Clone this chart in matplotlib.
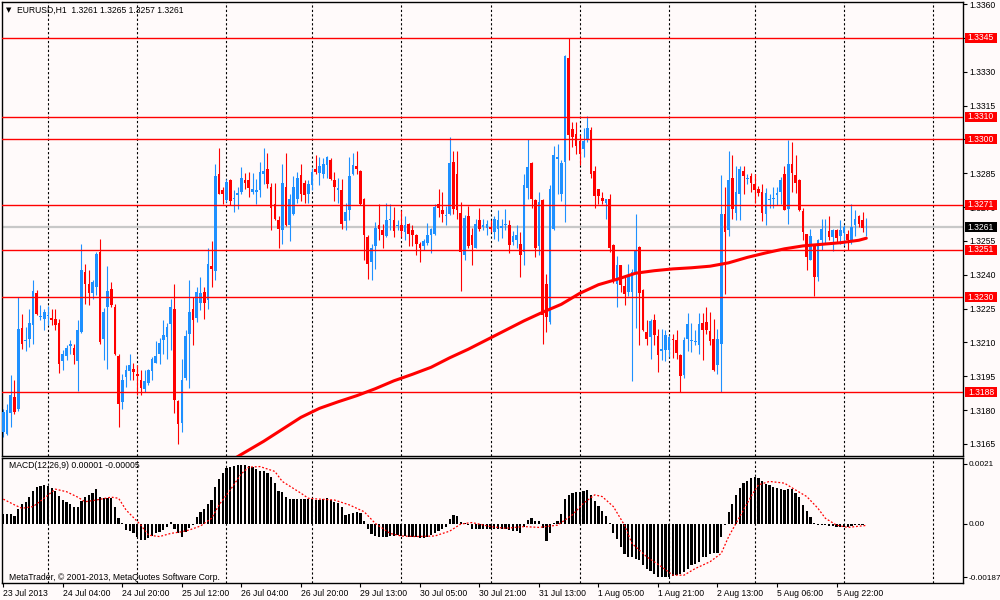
import numpy as np
import matplotlib
matplotlib.use('Agg')
import matplotlib.pyplot as plt
from matplotlib.patches import Rectangle
from matplotlib.transforms import blended_transform_factory

plt.rcParams['font.family'] = ['Liberation Sans', 'DejaVu Sans']
plt.rcParams['font.size'] = 6.2

# ---------------- data (EURUSD H1, prices as pips above BASE) ----------------
BASE = 1.3165
open_pips = [
    5.3, 4.6, 13.7, 20.8, 15.7, 51.5, 45.6, 46.7, 52.6, 66.9,
    56.3, 55.5, 56.9, 55.9, 55.6, 53.6, 36.8, 38.8, 43.3, 42.7,
    36.8, 49.7, 76.3, 71.1, 67.0, 69.6, 85.0, 46.7, 60.7, 68.9,
    60.7, 38.8, 18.6, 29.7, 32.3, 33.4, 31.2, 28.5, 24.5, 27.2,
    32.3, 35.9, 39.7, 45.9, 47.4, 53.0, 60.0, 18.9, 9.3, 29.4,
    48.9, 60.0, 56.0, 62.5, 67.4, 64.0, 78.7, 76.6, 119.8, 112.7,
    108.3, 116.8, 108.5, 110.2, 111.7, 117.1, 116.8, 111.7, 111.7, 112.7,
    119.8, 122.0, 113.9, 106.2, 99.1, 95.0, 113.9, 96.9, 102.1, 108.7,
    119.1, 115.7, 110.9, 114.6, 122.0, 120.1, 119.8, 123.5, 125.7, 117.1,
    112.7, 112.7, 98.8, 103.8, 119.8, 123.0, 121.0, 108.7, 91.7, 80.7,
    87.6, 96.9, 95.0, 92.0, 99.1, 99.1, 96.5, 96.9, 94.0, 97.3,
    94.7, 92.5, 88.5, 87.6, 89.1, 92.5, 93.2, 106.2, 103.8, 100.9,
    101.8, 125.0, 119.8, 102.5, 83.6, 101.0, 92.7, 86.8, 99.1, 96.1,
    95.7, 96.1, 93.9, 95.1, 95.7, 96.9, 96.9, 89.5, 90.2, 88.8,
    85.1, 113.4, 124.7, 108.0, 87.7, 108.0, 71.0, 54.0, 95.1, 126.2,
    110.9, 125.0, 171.0, 139.4, 137.5, 134.5, 130.8, 135.3, 139.0, 120.8,
    112.8, 109.0, 106.9, 108.7, 88.0, 71.0, 79.2, 70.0, 67.3, 67.3,
    76.2, 87.3, 68.1, 49.6, 47.4, 54.8, 47.8, 41.0, 41.5, 41.5,
    46.7, 46.3, 39.3, 30.4, 46.5, 45.5, 45.0, 43.7, 53.6, 54.1,
    50.1, 46.7, 34.9, 44.5, 101.8, 94.7, 118.0, 102.4, 110.9, 121.0,
    117.6, 118.6, 115.4, 113.2, 111.7, 101.8, 108.3, 108.5, 110.2, 111.7,
    119.8, 104.3, 124.2, 119.1, 117.1, 103.2, 92.9, 81.7, 88.0, 74.0,
    90.3, 94.7, 94.4, 91.7, 95.0, 92.0, 93.5, 93.2, 90.0, 96.9,
    100.9, 99.4, 96.0]
high_pips = [
    15.7, 17.9, 30.5, 28.5, 65.2, 57.8, 51.8, 60.0, 72.8, 68.1,
    61.8, 60.0, 61.1, 60.0, 60.0, 55.6, 41.8, 43.7, 45.9, 44.5,
    55.1, 88.8, 79.7, 77.3, 72.5, 85.1, 91.0, 60.3, 78.9, 71.8,
    61.9, 40.0, 31.2, 34.9, 39.7, 35.9, 34.9, 32.6, 32.6, 33.4,
    38.5, 45.6, 47.1, 54.8, 53.6, 64.4, 71.1, 19.7, 37.8, 50.7,
    72.5, 65.1, 69.6, 74.0, 69.6, 87.0, 90.0, 123.9, 131.3, 113.9,
    117.6, 117.6, 112.4, 113.9, 122.7, 120.1, 120.5, 120.1, 117.6, 125.0,
    131.3, 129.0, 115.8, 115.8, 100.9, 124.0, 129.0, 110.9, 118.6, 120.5,
    124.0, 117.1, 117.1, 122.5, 127.9, 127.2, 126.9, 127.5, 126.9, 120.5,
    118.0, 117.6, 106.8, 127.2, 129.0, 129.8, 121.6, 109.2, 92.5, 88.5,
    98.4, 106.5, 97.6, 106.8, 106.5, 105.0, 99.4, 103.5, 100.9, 97.9,
    96.9, 92.9, 89.5, 91.0, 97.9, 95.9, 106.5, 113.1, 111.7, 105.3,
    136.0, 130.0, 129.7, 107.2, 101.3, 105.7, 95.7, 99.8, 104.6, 99.8,
    99.1, 99.1, 101.0, 103.5, 99.8, 104.0, 99.1, 94.2, 96.9, 93.9,
    119.8, 135.0, 125.2, 108.7, 111.7, 108.7, 75.5, 114.9, 132.0, 133.0,
    125.7, 172.5, 180.0, 142.7, 142.7, 136.8, 140.0, 145.3, 140.5, 123.2,
    113.1, 111.7, 108.7, 110.9, 88.8, 83.3, 79.5, 74.7, 79.9, 77.7,
    102.1, 87.7, 68.8, 54.8, 55.5, 57.7, 51.1, 50.8, 50.4, 48.1,
    48.9, 50.4, 40.0, 47.4, 58.0, 53.6, 50.4, 58.1, 58.1, 60.7,
    58.5, 55.5, 51.1, 119.0, 113.9, 129.8, 127.9, 123.0, 123.0, 123.0,
    119.8, 120.1, 119.8, 114.2, 115.4, 113.6, 110.9, 113.9, 113.9, 118.3,
    123.0, 134.9, 133.8, 127.9, 117.6, 104.7, 93.2, 95.4, 88.8, 91.0,
    99.9, 99.9, 100.9, 95.4, 95.4, 99.1, 96.9, 95.0, 106.2, 103.8,
    101.3, 102.8, 100.0]
low_pips = [
    3.1, 4.0, 7.5, 13.4, 14.7, 42.3, 41.2, 43.0, 44.5, 57.0,
    55.1, 50.7, 52.6, 52.6, 50.7, 31.6, 32.6, 37.1, 40.0, 35.6,
    23.5, 49.2, 62.2, 61.5, 64.4, 65.9, 44.5, 37.4, 33.4, 60.7,
    39.3, 7.5, 15.7, 25.3, 28.5, 28.2, 21.6, 21.6, 23.0, 26.0,
    28.5, 35.9, 35.6, 40.0, 37.8, 41.5, 13.7, 0.0, 5.3, 28.2,
    25.0, 43.7, 54.1, 59.5, 55.6, 60.0, 69.6, 72.5, 110.6, 106.5,
    107.2, 105.8, 102.8, 104.3, 110.9, 113.1, 109.5, 110.9, 106.2, 109.5,
    115.4, 113.4, 95.0, 99.1, 87.0, 88.8, 96.5, 90.0, 101.3, 106.8,
    107.7, 106.8, 106.8, 112.7, 119.8, 114.6, 118.0, 118.0, 117.1, 107.7,
    106.8, 95.4, 95.0, 99.1, 119.1, 119.5, 105.8, 81.4, 73.3, 72.5,
    77.7, 90.3, 87.0, 91.7, 95.0, 91.7, 95.0, 91.7, 90.3, 87.6,
    87.6, 83.6, 80.7, 85.8, 88.0, 84.6, 92.5, 100.6, 98.4, 96.9,
    101.3, 102.0, 99.8, 67.6, 81.4, 86.8, 79.4, 86.8, 94.2, 94.7,
    92.7, 93.9, 90.7, 89.8, 91.3, 94.7, 84.8, 88.3, 86.8, 74.0,
    79.4, 108.7, 104.6, 82.9, 83.9, 44.4, 49.6, 53.3, 94.7, 110.9,
    107.5, 98.6, 125.7, 131.6, 128.6, 123.8, 127.2, 133.8, 117.9, 104.6,
    106.5, 106.5, 99.5, 85.1, 71.5, 60.7, 67.3, 61.7, 65.6, 27.8,
    51.4, 43.7, 49.9, 44.0, 37.8, 44.0, 31.9, 37.1, 36.6, 38.5,
    38.1, 37.5, 23.0, 29.2, 41.0, 40.8, 44.0, 39.7, 37.1, 48.6,
    43.7, 32.4, 30.9, 23.1, 66.6, 92.0, 99.9, 99.4, 99.1, 110.6,
    115.4, 111.7, 106.8, 109.8, 98.8, 96.9, 104.7, 104.7, 105.8, 106.5,
    103.5, 97.6, 111.7, 111.2, 103.3, 90.3, 77.0, 81.4, 65.4, 72.2,
    85.8, 88.8, 90.3, 85.5, 89.5, 88.8, 88.0, 85.8, 88.8, 92.0,
    96.2, 94.0, 92.0]
close_pips = [
    14.2, 14.9, 21.6, 14.2, 51.1, 44.5, 46.3, 53.6, 67.7, 57.8,
    56.8, 58.5, 57.2, 54.8, 52.6, 35.6, 39.7, 42.7, 44.2, 39.6,
    50.7, 77.0, 70.8, 66.7, 71.7, 84.4, 45.2, 58.5, 67.7, 61.5,
    39.7, 17.9, 28.5, 32.6, 34.9, 31.9, 30.0, 25.0, 27.9, 32.6,
    37.8, 38.8, 44.8, 48.2, 51.8, 60.7, 19.7, 8.7, 28.5, 47.7,
    58.5, 54.8, 67.4, 66.9, 62.5, 79.6, 77.7, 118.6, 110.9, 110.9,
    116.1, 107.5, 109.2, 111.2, 118.0, 115.7, 113.6, 113.1, 112.7, 120.5,
    120.8, 115.4, 104.7, 99.6, 95.4, 115.8, 96.9, 108.7, 113.9, 118.0,
    110.6, 110.2, 115.4, 120.5, 120.5, 123.0, 124.2, 127.2, 117.6, 113.9,
    113.6, 97.6, 102.8, 118.6, 123.5, 122.0, 106.5, 92.5, 79.6, 87.0,
    95.9, 95.4, 92.5, 99.1, 99.9, 94.4, 96.9, 94.4, 96.9, 92.9,
    92.5, 88.5, 87.0, 90.0, 92.5, 95.4, 105.0, 104.7, 101.8, 101.3,
    124.5, 104.0, 103.5, 85.1, 100.1, 87.7, 88.0, 97.6, 95.1, 97.2,
    97.6, 95.1, 99.8, 99.1, 96.6, 97.6, 88.3, 92.2, 92.7, 83.6,
    114.9, 122.7, 108.7, 86.8, 107.2, 57.0, 56.3, 113.1, 127.9, 127.2,
    124.6, 171.9, 136.8, 136.0, 132.0, 128.6, 134.5, 140.0, 119.8, 109.9,
    109.9, 107.5, 108.4, 86.8, 73.2, 79.4, 70.6, 66.6, 74.7, 76.2,
    85.4, 67.0, 50.4, 46.7, 54.3, 48.4, 39.6, 42.2, 48.1, 47.4,
    45.9, 40.5, 30.1, 45.9, 53.0, 46.0, 45.7, 53.0, 50.7, 50.7,
    45.7, 32.9, 46.7, 102.1, 93.9, 117.1, 104.3, 111.7, 122.0, 118.6,
    118.0, 115.7, 112.4, 111.2, 102.4, 111.2, 108.7, 108.9, 111.2, 117.1,
    103.8, 124.2, 120.1, 115.7, 103.5, 93.9, 82.9, 92.0, 74.0, 90.6,
    95.4, 95.0, 91.7, 95.0, 91.4, 95.0, 96.2, 90.3, 96.2, 99.9,
    97.3, 95.9, 96.0]

level_prices = [1.3345, 1.3310, 1.3300, 1.3271, 1.3251, 1.3230, 1.3188]
bid_price = 1.3261

ma_bars = [58, 60, 64, 70, 75, 80, 85, 90, 95, 100, 105, 110, 115, 120, 125,
           130, 135, 140, 145, 150, 155, 160, 165, 170, 175, 180, 185, 190,
           195, 200, 205, 210, 215, 220, 225, 230, 232]
ma_prices = [1.31542, 1.31564, 1.31604, 1.31662, 1.31715, 1.31768, 1.31808,
             1.31837, 1.31864, 1.31895, 1.31930, 1.31959, 1.31990, 1.32032,
             1.32070, 1.32112, 1.32154, 1.32196, 1.32234, 1.32269, 1.32318,
             1.32356, 1.32380, 1.32407, 1.32418, 1.32426, 1.32431, 1.32438,
             1.32453, 1.32477, 1.32497, 1.32515, 1.32528, 1.32535, 1.32542,
             1.32553, 1.32562]

# MACD histogram and signal, in units of 1e-5
macd_hist_e5 = [
    35, 35, 35, 29, 53, 70, 78, 96, 117, 129,
    133, 136, 133, 125, 117, 99, 84, 76, 69, 59,
    61, 82, 96, 102, 108, 122, 96, 90, 90, 90,
    59, 20, 2, -21, -25, -33, -47, -56, -56, -50,
    -42, -33, -29, -21, -12, 8, -19, -33, -47, -27,
    -15, -2, 26, 41, 51, 70, 84, 129, 157, 178,
    195, 201, 204, 205, 207, 207, 204, 199, 192, 184,
    184, 178, 164, 143, 117, 113, 96, 87, 87, 87,
    87, 87, 87, 87, 84, 84, 87, 90, 84, 78,
    75, 59, 32, 35, 40, 43, 37, 12, -19, -35,
    -42, -44, -47, -44, -42, -42, -40, -42, -42, -44,
    -47, -47, -50, -50, -47, -39, -30, -23, -16, -9,
    16, 30, 28, 8, 2, -4, -19, -19, -19, -19,
    -19, -16, -19, -19, -19, -19, -21, -23, -23, -33,
    -12, 14, 20, 12, 12, -15, -59, -30, 5, 12,
    35, 87, 102, 110, 113, 113, 117, 119, 102, 82,
    63, 47, 28, 2, -33, -54, -80, -105, -117, -117,
    -121, -126, -144, -156, -164, -176, -185, -185, -187, -187,
    -183, -179, -176, -167, -156, -144, -140, -132, -117, -115,
    -105, -101, -101, -47, -4, 43, 70, 102, 125, 143,
    152, 160, 164, 160, 149, 140, 137, 131, 125, 122,
    119, 122, 122, 110, 96, 67, 47, 26, 2, -4,
    -4, -5, -7, -7, -9, -9, -9, -9, -7, -5,
    -4, -4, 1]
signal_bars = [0, 3, 5, 8, 11, 14, 17, 20, 22, 25, 29, 31, 33, 37, 39, 42, 45,
               48, 50, 53, 56, 58, 61, 64, 66, 69, 73, 75, 80, 82, 85, 89, 93,
               97, 100, 104, 107, 111, 116, 120, 123, 126, 131, 135, 140, 144,
               149, 153, 156, 159, 161, 164, 167, 169, 173, 177, 180, 183, 186,
               190, 193, 195, 198, 201, 203, 206, 210, 213, 216, 219, 221, 224,
               227, 232]
signal_e5 = [87, 67, 55, 61, 90, 122, 113, 94, 78, 84, 94, 90, 49, -4, -39, -44,
             -33, -27, -21, -7, 20, 67, 119, 176, 199, 201, 184, 149, 108, 90,
             87, 84, 67, 43, 2, -33, -42, -44, -42, -25, 0, 5, -9, -15, -9, -12,
             -4, 32, 73, 102, 96, 61, -4, -68, -115, -150, -179, -179, -156,
             -132, -103, -44, 26, 96, 137, 149, 143, 119, 96, 55, 20, -4, -12,
             -5]

x_label_bars = [0, 16, 32, 48, 64, 80, 96, 112, 128, 144, 160, 176, 192, 208, 224]
x_labels = ['23 Jul 2013', '24 Jul 04:00', '24 Jul 20:00', '25 Jul 12:00',
            '26 Jul 04:00', '26 Jul 20:00', '29 Jul 13:00', '30 Jul 05:00',
            '30 Jul 21:00', '31 Jul 13:00', '1 Aug 05:00', '1 Aug 21:00',
            '2 Aug 13:00', '5 Aug 06:00', '5 Aug 22:00']
day_bars = [12, 36, 60, 83, 107, 131, 155, 179, 202, 226, 250]
price_ticks = [1.3165, 1.3180, 1.3195, 1.3210, 1.3225, 1.3240, 1.3255, 1.3270,
               1.3285, 1.3300, 1.3315, 1.3330, 1.3345, 1.3360]
macd_ticks = [0.0021, 0.0, -0.00187]
macd_tick_labels = ['0.0021', '0.00', '-0.00187']

# ---------------- figure ----------------
BG = '#FFFAFA'
BULL = '#1E90FF'
BEAR = '#FF0000'

fig = plt.figure(figsize=(10, 6), dpi=100, facecolor=BG)
ax = fig.add_axes([0.002, 1 - 456 / 600, 0.961, 454 / 600], facecolor=BG)
axm = fig.add_axes([0.002, 1 - 583 / 600, 0.961, 125 / 600], facecolor=BG)

o = BASE + np.array(open_pips) / 1e4
h = BASE + np.array(high_pips) / 1e4
l = BASE + np.array(low_pips) / 1e4
c = BASE + np.array(close_pips) / 1e4
xs = np.arange(len(o))
up = c >= o
cols = np.where(up, BULL, BEAR)

for a in (ax, axm):
    for d in day_bars:
        a.axvline(d, color='black', lw=0.8, ls=(0, (2, 2)), zorder=1)
    for s in a.spines.values():
        s.set_color('black')
        s.set_linewidth(1.0)
    a.set_xlim(-0.35, 258.0)

ax.axhline(bid_price, color='#C8C8C8', lw=1.6, zorder=1.5)

ax.vlines(xs, l, h, colors=cols, lw=0.8, zorder=2)
body_bottom = np.minimum(o, c)
body_h = np.maximum(np.abs(c - o), 0.00003)
ax.bar(xs, body_h, bottom=body_bottom, width=0.72, color=cols, linewidth=0, zorder=3)

for lv in level_prices:
    ax.axhline(lv, color='#FF0000', lw=1.0, zorder=4)

ax.plot(ma_bars, ma_prices, color='#FF0000', lw=2.2, zorder=5, solid_capstyle='round')

ax.set_ylim(1.315968, 1.336089)
ax.set_yticks(price_ticks)
# labels that sit exactly under a level box are hidden by the box in the reference
ax.set_yticklabels(['' if any(abs(t - lv) < 1e-6 for lv in level_prices) else '%.4f' % t
                    for t in price_ticks])
ax.yaxis.tick_right()
ax.tick_params(axis='y', length=3, width=0.8, pad=1.5, labelsize=6.2, colors='black')
ax.tick_params(axis='x', bottom=False, labelbottom=False)

# right-side price labels
blend = blended_transform_factory(ax.transAxes, ax.transData)
bw = 32 / 961
bh = 10 / 22564
def price_box(p, fc):
    ax.add_patch(Rectangle((1 + 2 / 961, p - bh / 2), bw, bh, transform=blend,
                           facecolor=fc, edgecolor='none', clip_on=False, zorder=10))
    ax.text(1 + 2 / 961 + bw / 2, p, '%.4f' % p, transform=blend, ha='center',
            va='center', color='white', fontsize=6.2, clip_on=False, zorder=11)
for lv in level_prices:
    price_box(lv, '#FF0000')
price_box(bid_price, 'black')

# MACD panel
hist = np.array(macd_hist_e5) * 1e-5
axm.bar(np.arange(len(hist)), hist, width=0.6, color='black', linewidth=0, zorder=3)
axm.plot(signal_bars, np.array(signal_e5) * 1e-5, color='#FF0000', lw=0.9,
         ls=(0, (1.5, 1.5)), zorder=4)
axm.set_ylim(-0.002065, 0.00231)
axm.set_yticks(macd_ticks)
axm.set_yticklabels(macd_tick_labels)
axm.yaxis.tick_right()
axm.tick_params(axis='y', length=3, width=0.8, pad=1.0, labelsize=5.9)
axm.set_xticks(x_label_bars)
axm.set_xticklabels(x_labels)
for t in axm.get_xticklabels():
    t.set_horizontalalignment('left')
axm.tick_params(axis='x', length=3, width=0.8, pad=1.5, labelsize=6.2)

axm.text(7 / 961, 1 - 8 / 125, 'MACD(12,26,9) 0.00001 -0.00005', transform=axm.transAxes,
         ha='left', va='center', fontsize=6.2)
axm.text(7 / 961, 6 / 125, 'MetaTrader, © 2001-2013, MetaQuotes Software Corp.',
         transform=axm.transAxes, ha='left', va='center', fontsize=6.2)

fig.text(6 / 1000, 1 - 10 / 600, '▼', ha='left', va='center', fontsize=5,
         family=['DejaVu Sans'])
fig.text(17 / 1000, 1 - 10 / 600, 'EURUSD,H1  1.3261 1.3265 1.3257 1.3261',
         ha='left', va='center', fontsize=6.2)

fig.savefig('out.png', dpi=100, facecolor=BG)
